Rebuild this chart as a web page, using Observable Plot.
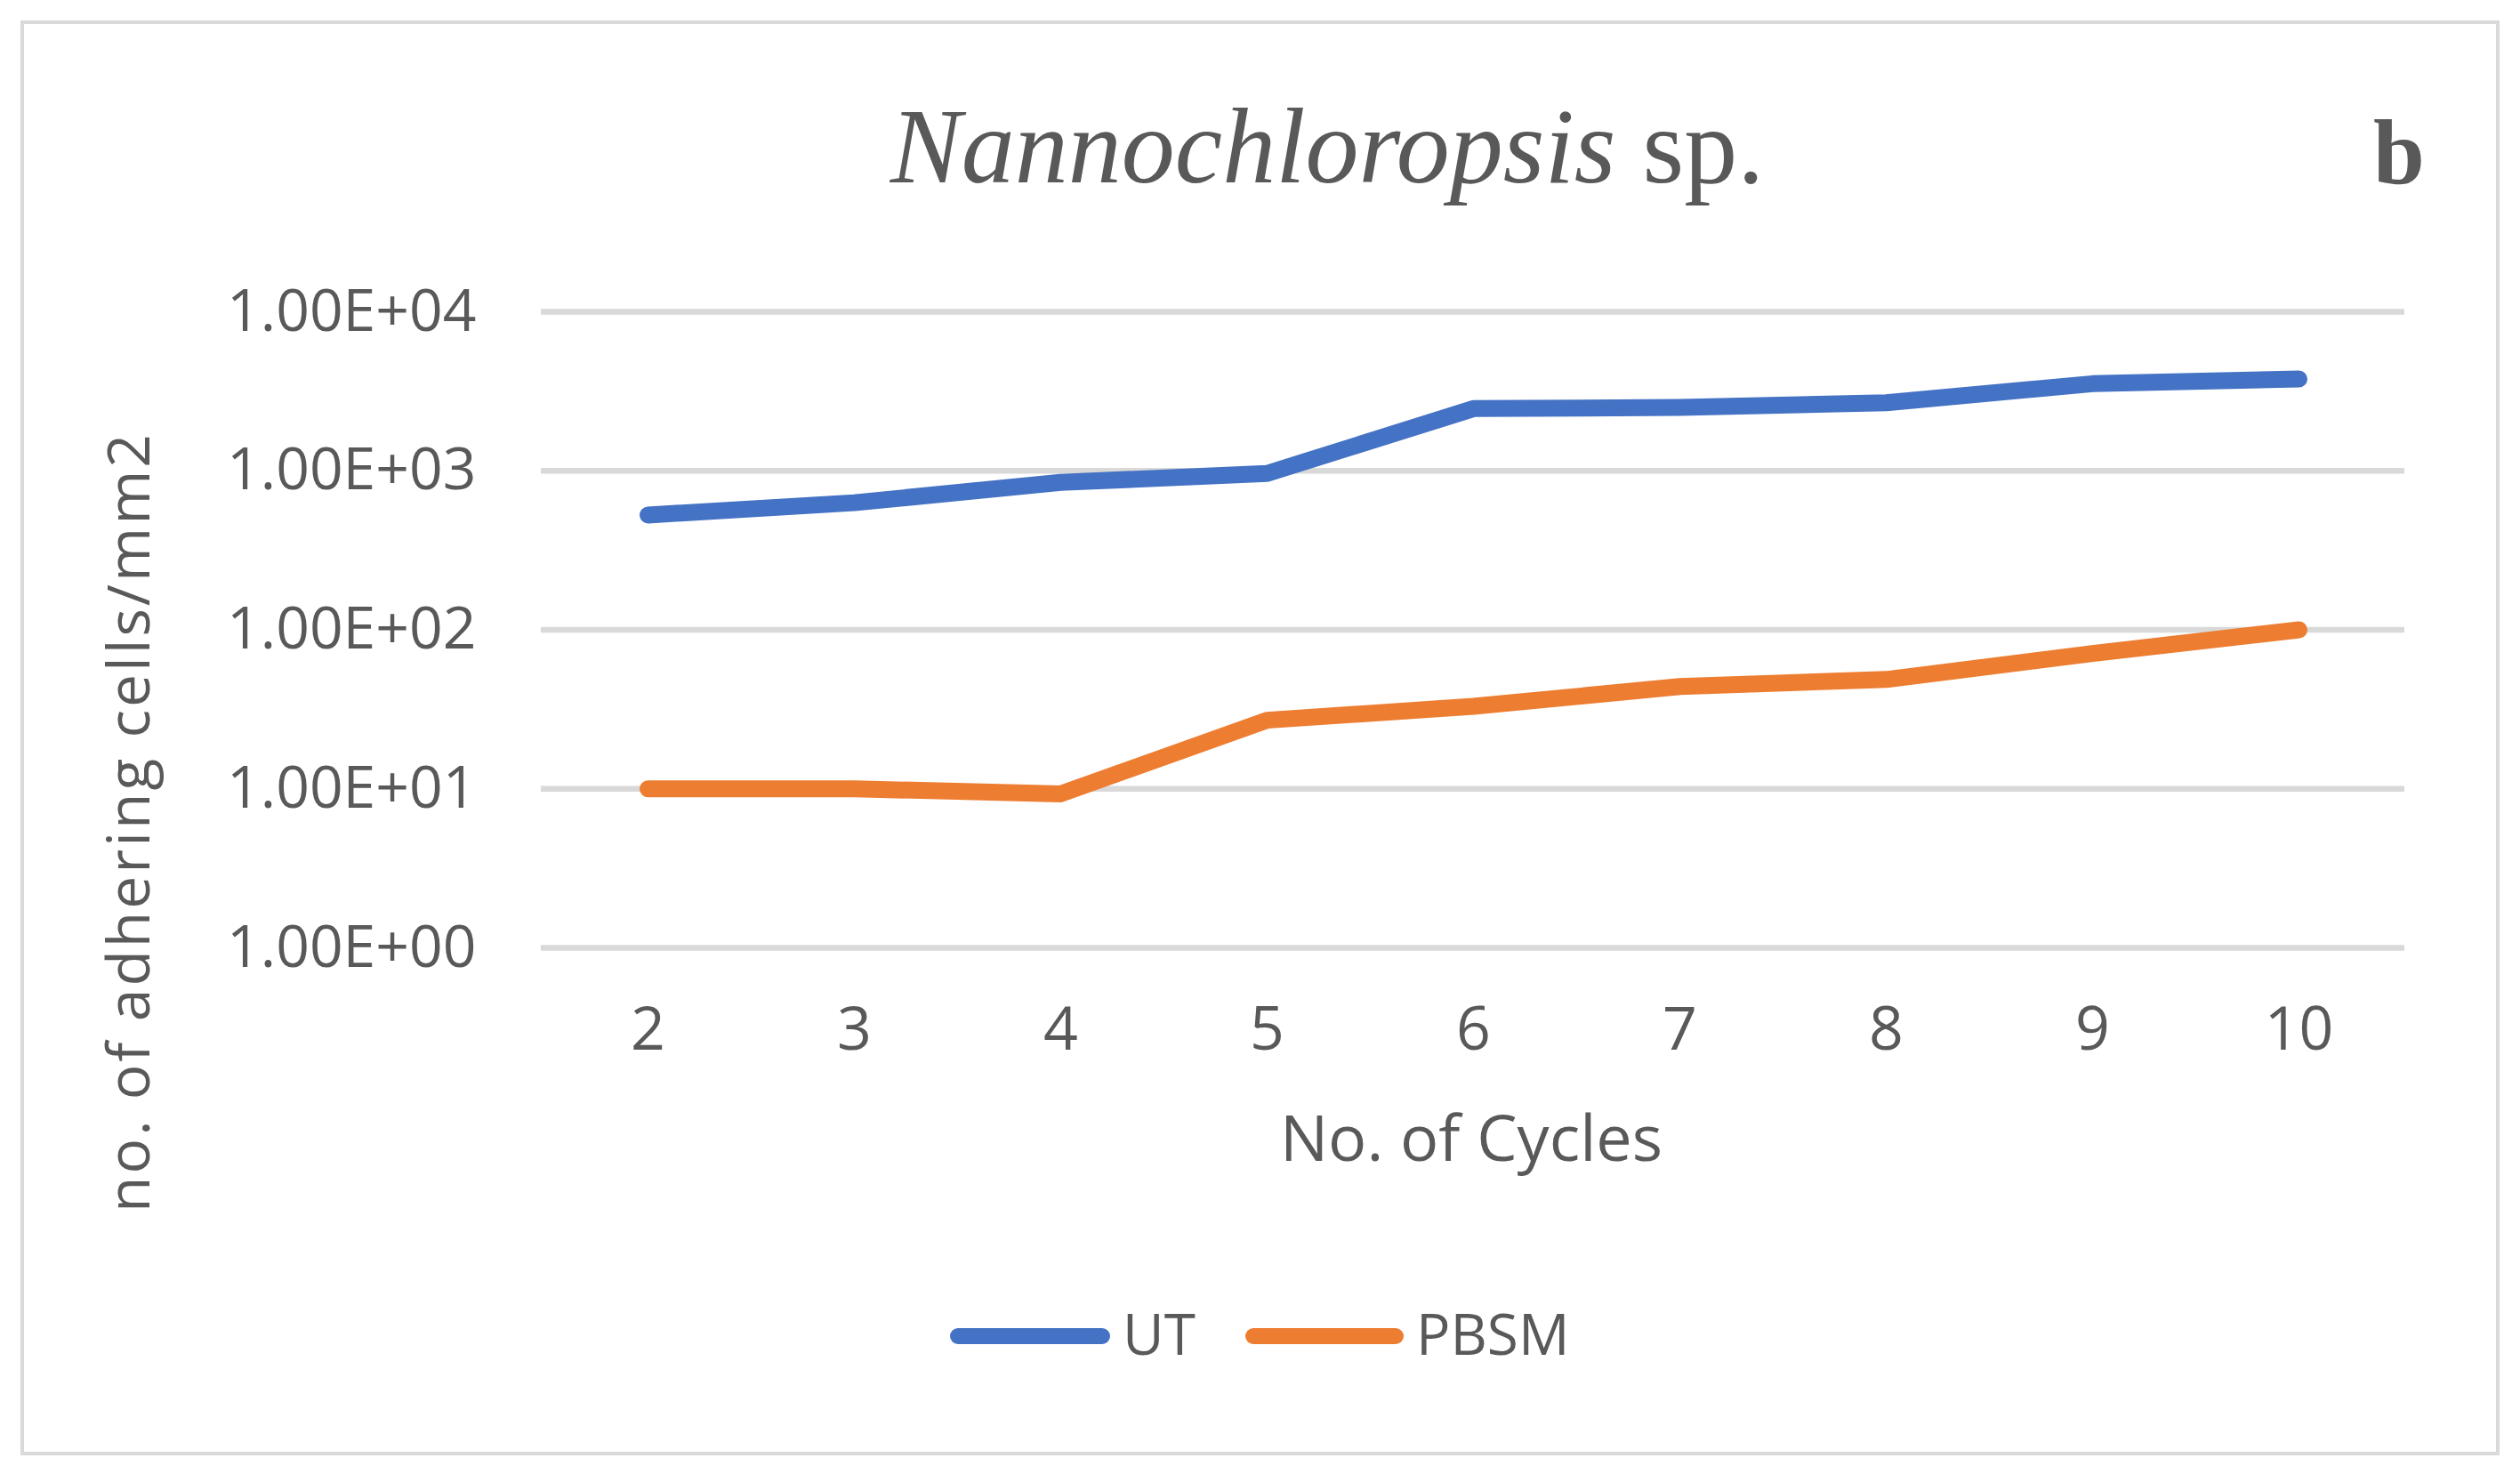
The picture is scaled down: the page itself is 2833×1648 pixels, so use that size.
<!DOCTYPE html>
<html><head><meta charset="utf-8">
<script src="https://cdn.jsdelivr.net/npm/d3@7"></script>
<script src="https://cdn.jsdelivr.net/npm/@observablehq/plot@0.6"></script>
<style>body{margin:0;background:#fff} #chart{position:relative;width:2833px;height:1648px}</style>
</head><body><div id="chart"></div>
<script>
const cycles = [2, 3, 4, 5, 6, 7, 8, 9, 10];
const utValues = [527, 630, 845, 962, 2460, 2500, 2680, 3530, 3780];
const pbsmValues = [10, 10, 9.3, 27, 33, 44, 48.7, 71, 100];
const seriesNames = ["UT", "PBSM"];
const seriesColors = ["#4472C4", "#ED7D31"];
const yTicks = [1, 10, 100, 1000, 10000];
const yTickLabels = ["1.00E+00", "1.00E+01", "1.00E+02", "1.00E+03", "1.00E+04"];
const titleItalic = "Nannochloropsis";
const titleRest = " sp.";
const panelLetter = "b";
const xLabel = "No. of Cycles";
const yLabel = "no. of adhering cells/mm2";

const rows = [];
cycles.forEach((c, i) => {
  rows.push({cycle: c, value: utValues[i], series: seriesNames[0]});
});
cycles.forEach((c, i) => {
  rows.push({cycle: c, value: pbsmValues[i], series: seriesNames[1]});
});

const textColor = "#595959";
const sans = "'Open Sans', 'Noto Sans', sans-serif";
const serif = "'Liberation Serif', 'DejaVu Serif', serif";

const plot = Plot.plot({
  width: 2833,
  height: 1648,
  marginLeft: 608,
  marginRight: 130,
  marginTop: 350,
  marginBottom: 583,
  style: {fontFamily: sans, color: textColor, background: "#fff", overflow: "visible"},
  x: {type: "point", domain: cycles, padding: 0.5},
  y: {type: "log", domain: [1, 10000]},
  color: {domain: seriesNames, range: seriesColors},
  marks: [
    Plot.gridY(yTicks, {stroke: "#d9d9d9", strokeOpacity: 1, strokeWidth: 6.5}),
    Plot.axisY(yTicks, {tickSize: 0, tickPadding: 73, fontSize: 66, label: null,
      tickFormat: d => yTickLabels[yTicks.indexOf(d)]}),
    Plot.axisX({tickSize: 0, tickPadding: 66, fontSize: 68, label: null}),
    Plot.line(rows, {x: "cycle", y: "value", stroke: "series", z: "series",
      strokeWidth: 19, strokeLinecap: "round", strokeLinejoin: "round"})
  ]
});
document.getElementById("chart").appendChild(plot);

const svg = d3.select(plot);
svg.insert("rect", ":first-child")
  .attr("x", 25).attr("y", 25).attr("width", 2783).attr("height", 1609)
  .attr("fill", "none").attr("stroke", "#d9d9d9").attr("stroke-width", 4);

const title = svg.append("text")
  .attr("x", 1492).attr("y", 205)
  .attr("text-anchor", "middle")
  .attr("font-family", serif)
  .attr("font-size", 120)
  .attr("fill", textColor);
title.append("tspan").attr("font-style", "italic").text(titleItalic);
title.append("tspan").text(titleRest);

svg.append("text")
  .attr("x", 2697).attr("y", 206)
  .attr("text-anchor", "middle")
  .attr("font-family", serif)
  .attr("font-weight", "bold")
  .attr("font-size", 104)
  .attr("fill", textColor)
  .text(panelLetter);

svg.append("text")
  .attr("transform", "translate(142,924) rotate(-90)")
  .attr("text-anchor", "middle")
  .attr("dominant-baseline", "central")
  .attr("font-family", sans)
  .attr("font-size", 66)
  .attr("letter-spacing", 3)
  .attr("fill", textColor)
  .text(yLabel);

svg.append("text")
  .attr("x", 1654).attr("y", 1305)
  .attr("text-anchor", "middle")
  .attr("font-family", sans)
  .attr("font-size", 72)
  .attr("fill", textColor)
  .text(xLabel);

const legendItems = [
  {x0: 1068, x1: 1248, tx: 1262},
  {x0: 1400, x1: 1578, tx: 1592}
];
legendItems.forEach((item, i) => {
  svg.append("line")
    .attr("x1", item.x0 + 9).attr("x2", item.x1 - 9)
    .attr("y1", 1502).attr("y2", 1502)
    .attr("stroke", seriesColors[i]).attr("stroke-width", 18)
    .attr("stroke-linecap", "round");
  svg.append("text")
    .attr("x", item.tx).attr("y", 1523)
    .attr("text-anchor", "start")
    .attr("font-family", sans)
    .attr("font-size", 64)
    .attr("fill", textColor)
    .text(seriesNames[i]);
});
</script>
</body></html>
